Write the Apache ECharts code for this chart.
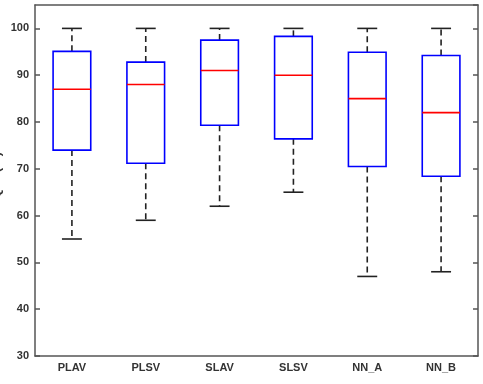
<!DOCTYPE html>
<html>
<head>
<meta charset="utf-8">
<script src="https://cdn.jsdelivr.net/npm/echarts@6/dist/echarts.min.js"></script>
<style>html,body{margin:0;padding:0;background:#fff}#c{width:483px;height:384px}</style>
</head>
<body>
<div id="c"></div>
<script>
const categories = ['PLAV', 'PLSV', 'SLAV', 'SLSV', 'NN_A', 'NN_B'];
const lowWhisker = [55, 59, 62, 65, 47, 48];
const q1 = [74, 71.2, 79.3, 76.4, 70.5, 68.4];
const median = [87, 88, 91, 90, 85, 82];
const q3 = [95.1, 92.8, 97.5, 98.3, 94.9, 94.2];
const highWhisker = [100, 100, 100, 100, 100, 100];
const yTicks = [30, 40, 50, 60, 70, 80, 90, 100];

const data = categories.map((c, i) => [i, lowWhisker[i], q1[i], median[i], q3[i], highWhisker[i]]);

function renderItem(params, api) {
  const i = api.value(0);
  const bw = api.size([1, 0])[0];
  const pLow = api.coord([i, api.value(1)]);
  const pQ1 = api.coord([i, api.value(2)]);
  const pMed = api.coord([i, api.value(3)]);
  const pQ3 = api.coord([i, api.value(4)]);
  const pHigh = api.coord([i, api.value(5)]);
  const x = pMed[0];
  const hb = bw * 0.255;
  const hc = bw * 0.135;
  const whiskerStyle = { stroke: '#222', lineWidth: 1.6, lineDash: [6, 4] };
  const capStyle = { stroke: '#222', lineWidth: 1.6 };
  return {
    type: 'group',
    children: [
      { type: 'line', shape: { x1: x, y1: pQ3[1], x2: x, y2: pHigh[1] }, style: whiskerStyle },
      { type: 'line', shape: { x1: x, y1: pQ1[1], x2: x, y2: pLow[1] }, style: whiskerStyle },
      { type: 'line', shape: { x1: x - hc, y1: pHigh[1], x2: x + hc, y2: pHigh[1] }, style: capStyle },
      { type: 'line', shape: { x1: x - hc, y1: pLow[1], x2: x + hc, y2: pLow[1] }, style: capStyle },
      { type: 'rect', shape: { x: x - hb, y: pQ3[1], width: 2 * hb, height: pQ1[1] - pQ3[1] },
        style: { fill: 'none', stroke: '#0000ff', lineWidth: 1.6 } },
      { type: 'line', shape: { x1: x - hb, y1: pMed[1], x2: x + hb, y2: pMed[1] },
        style: { stroke: '#ff0000', lineWidth: 1.6 } }
    ]
  };
}

const axisLineStyle = { color: '#555', width: 1.5 };
const labelStyle = { color: '#333', fontSize: 11, fontWeight: 'bold', fontFamily: 'Liberation Sans, Arial, sans-serif' };
const nameStyle = { color: '#333', fontSize: 13, fontWeight: 'bold', fontFamily: 'Liberation Sans, Arial, sans-serif', padding: [0, 0, 0, 10] };

const chart = echarts.init(document.getElementById('c'), null, { renderer: 'canvas' });
chart.setOption({
  animation: false,
  backgroundColor: '#fff',
  grid: { left: 35, right: 5, top: 5, bottom: 28, containLabel: false, outerBoundsMode: 'none' },
  xAxis: [
    { type: 'category', data: categories, position: 'bottom', boundaryGap: true,
      axisLine: { lineStyle: axisLineStyle },
      axisTick: { inside: true, length: 5, alignWithLabel: true, lineStyle: axisLineStyle },
      axisLabel: Object.assign({ margin: 6 }, labelStyle),
      splitLine: { show: false } },
    { type: 'category', data: categories, position: 'top', boundaryGap: true,
      axisLine: { lineStyle: axisLineStyle },
      axisTick: { inside: true, length: 5, alignWithLabel: true, lineStyle: axisLineStyle },
      axisLabel: { show: false }, splitLine: { show: false } }
  ],
  yAxis: [
    { type: 'value', min: 30, max: 105, interval: 10, position: 'left',
      name: 'QoS(%)', nameLocation: 'middle', nameGap: 32, nameRotate: 90, nameMoveOverlap: false,
      nameTextStyle: nameStyle,
      axisLine: { show: true, lineStyle: axisLineStyle },
      axisTick: { show: true, inside: true, length: 5, lineStyle: axisLineStyle },
      axisLabel: Object.assign({ margin: 6, showMaxLabel: false,
        formatter: v => (yTicks.indexOf(v) >= 0 ? String(v) : '') }, labelStyle),
      splitLine: { show: false } },
    { type: 'value', min: 30, max: 105, interval: 10, position: 'right',
      axisLine: { show: true, lineStyle: axisLineStyle },
      axisTick: { show: true, inside: true, length: 5, lineStyle: axisLineStyle },
      axisLabel: { show: false }, splitLine: { show: false } }
  ],
  series: [{
    type: 'custom',
    renderItem: renderItem,
    encode: { x: 0, y: [1, 2, 3, 4, 5] },
    data: data
  }]
});
</script>
</body>
</html>
